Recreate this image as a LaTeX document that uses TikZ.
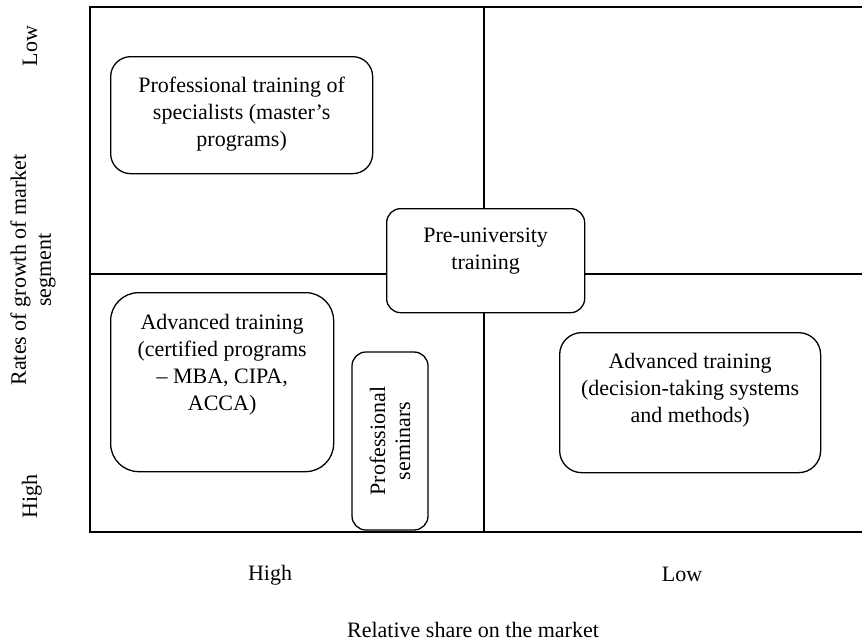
\documentclass[tikz,border=0pt]{standalone}
\usepackage{fontspec}
\setmainfont{Liberation Serif}
\newcommand{\boxfont}{\fontsize{22}{27}\selectfont}
\newcommand{\axfont}{\fontsize{22}{25}\selectfont}
\newcommand{\qtext}[4]{\begin{minipage}[t][#2][t]{#1}\centering\vspace*{#3}#4\par\end{minipage}}
\begin{document}
\begin{tikzpicture}[x=1pt,y=-1pt,
  qbox/.style={draw, line width=1.3pt, fill=white, inner sep=0pt, anchor=north west, font=\boxfont},
  gridline/.style={line width=2pt, line cap=rect},
  axlbl/.style={font=\axfont, inner sep=0pt, align=center}]
\useasboundingbox (0,0) rectangle (862,643);
% frame coordinates
\coordinate (tl) at (90,7);
\coordinate (tr) at (862,7);
\coordinate (bl) at (90,532);
\coordinate (br) at (862,532);
\coordinate (ml) at (90,274);
\coordinate (mr) at (862,274);
\coordinate (mt) at (484,7);
\coordinate (mb) at (484,532);
\draw[gridline] (tr) -- (tl) -- (bl) -- (br);
\draw[gridline] (ml) -- (mr);
\draw[gridline] (mt) -- (mb);
% boxes
\node[qbox, rounded corners=20pt] (spec) at (110,56)
  {\qtext{262pt}{117pt}{20pt}{Professional training of\\specialists (master’s\\programs)}};
\node[qbox, rounded corners=14pt] (pre) at (386,208)
  {\qtext{198pt}{104pt}{19pt}{Pre-university\\training}};
\node[qbox, rounded corners=28pt] (cert) at (110,292)
  {\qtext{223pt}{179pt}{22pt}{Advanced training\\(certified programs\\– MBA, CIPA,\\ACCA)}};
\node[qbox, rounded corners=22pt] (dec) at (559,332)
  {\qtext{261pt}{140pt}{21pt}{Advanced training\\(decision-taking systems\\and methods)}};
\node[draw, line width=1.3pt, fill=white, rounded corners=14pt, rotate=90,
  minimum width=178pt, minimum height=76pt, inner sep=0pt, align=center, font=\axfont] (sem) at (390,441)
  {Professional\\seminars};
% axis labels
\node[axlbl, rotate=90, anchor=base] (ylow) at (37,46) {Low};
\node[axlbl, rotate=90, anchor=base] (yhigh) at (37,496) {High};
\node[axlbl, rotate=90] (ytitle) at (33,270) {Rates of growth of market\\segment};
\node[axlbl, anchor=base] (xhigh) at (270,580) {High};
\node[axlbl, anchor=base] (xlow) at (682,581) {Low};
\node[axlbl, anchor=base] (xtitle) at (473,637) {Relative share on the market};
\end{tikzpicture}
\end{document}
